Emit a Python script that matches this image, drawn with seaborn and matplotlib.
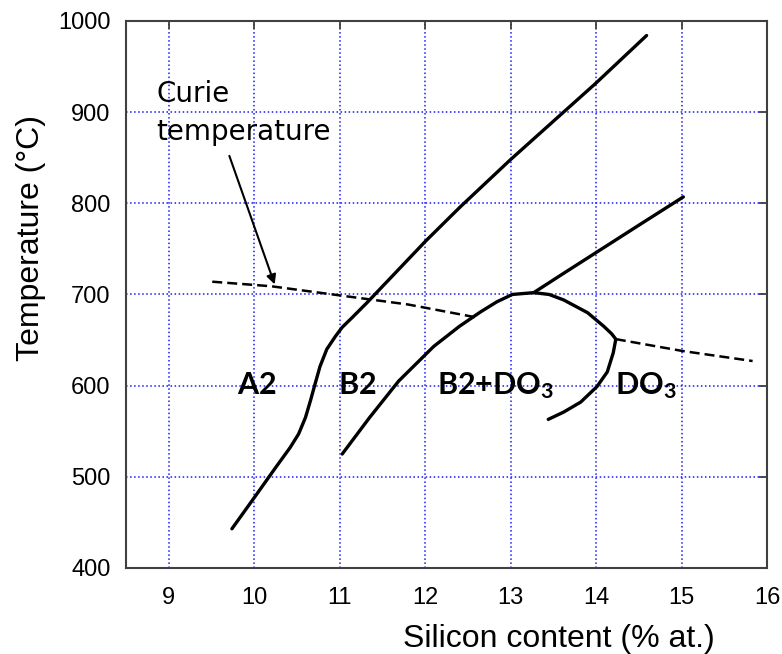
"""
Fe-Si phase diagram (order-disorder transitions) recreated with seaborn
"""
import matplotlib
matplotlib.use('Agg')
import matplotlib.pyplot as plt
import seaborn as sns

sns.set_style("white")
plt.rcParams['font.family'] = ['Liberation Sans', 'DejaVu Sans']
plt.rcParams['mathtext.fontset'] = 'custom'
plt.rcParams['mathtext.bf'] = 'Lato:bold'
plt.rcParams['mathtext.rm'] = 'Lato:bold'
plt.rcParams['text.color'] = 'black'
plt.rcParams['axes.labelcolor'] = 'black'
plt.rcParams['xtick.labelcolor'] = 'black'
plt.rcParams['ytick.labelcolor'] = 'black'

# A2 / B2 boundary (and its extension upward)
a2_b2_si = [9.74, 10.0, 10.25, 10.42, 10.52, 10.6, 10.66, 10.71, 10.77, 10.85, 10.95, 11.03,
            11.15, 11.32, 12.0, 12.41, 13.0, 14.0, 14.59]
a2_b2_t = [443, 477, 510, 532, 547, 565, 584, 601, 621, 640, 654, 664,
           675, 691, 758, 796, 848, 932, 984]

# B2 / B2+DO3 boundary continuing to 15 % Si
b2_do3_si = [11.03, 11.35, 11.69, 12.1, 12.4, 12.65, 12.84, 13.02, 13.27, 13.6, 14.0, 14.5, 15.02]
b2_do3_t = [525, 565, 605, 643, 665, 681, 692, 700, 702, 722, 746, 776, 807]

# DO3 dome
dome_si = [13.27, 13.45, 13.62, 13.9, 14.09, 14.18, 14.23, 14.2, 14.13, 14.01, 13.82, 13.62, 13.44]
dome_t = [702, 700, 694, 680, 665, 657, 651, 636, 615, 599, 582, 571, 563]

# Curie temperature (dashed, two visible pieces)
curie_left_si = [9.51, 10.2, 10.92, 11.8, 12.59]
curie_left_t = [714, 709, 700, 689, 675]
curie_right_si = [14.23, 15.01, 15.83]
curie_right_t = [651, 638, 627]

x_ticks = [9, 10, 11, 12, 13, 14, 15, 16]
y_ticks = [400, 500, 600, 700, 800, 900, 1000]

fig = plt.figure(figsize=(7.82, 6.54), dpi=100)
ax = fig.add_axes([0.161, 0.1315, 0.82, 0.8365])

for xs, ys in [(a2_b2_si, a2_b2_t), (b2_do3_si, b2_do3_t), (dome_si, dome_t)]:
    sns.lineplot(x=xs, y=ys, sort=False, estimator=None, color='black', lw=2.4, ax=ax)
for xs, ys in [(curie_left_si, curie_left_t), (curie_right_si, curie_right_t)]:
    sns.lineplot(x=xs, y=ys, sort=False, estimator=None, color='black', lw=1.8,
                 linestyle=(0, (4, 2)), ax=ax)

ax.set_xlim(8.5, 16)
ax.set_ylim(400, 1000)
ax.set_xticks(x_ticks)
ax.set_yticks(y_ticks)
ax.grid(True, color='#1a1aff', linestyle=':', linewidth=1.1)
ax.tick_params(direction='in', length=6, width=1.3, color='#404040',
               top=True, right=True, labelsize=17)
ax.tick_params(axis='x', pad=14)
ax.tick_params(axis='y', pad=11)
for s in ax.spines.values():
    s.set_color('#404040')
    s.set_linewidth(1.5)

ax.set_xlabel('Silicon content (% at.)', fontsize=23)
ax.set_ylabel('Temperature (°C)', fontsize=23)
ax.xaxis.set_label_coords(0.675, -0.102)
ax.yaxis.set_label_coords(-0.124, 0.603)

# region labels
ax.text(9.8, 600, r'$\mathbf{A2}$', fontsize=22, va='center', ha='left')
ax.text(10.98, 600, r'$\mathbf{B2}$', fontsize=22, va='center', ha='left')
ax.text(12.14, 600, r'$\mathbf{B2{+}DO_3}$', fontsize=22, va='center', ha='left')
ax.text(14.22, 600, r'$\mathbf{DO_3}$', fontsize=22, va='center', ha='left')

# Curie temperature annotation
ax.text(8.86, 935, 'Curie\ntemperature', fontsize=20, family='DejaVu Sans',
        va='top', ha='left', linespacing=1.45)
ax.annotate('', xy=(10.24, 711), xytext=(9.71, 852),
            arrowprops=dict(arrowstyle='-|>', color='black', lw=1.5,
                            mutation_scale=14, shrinkA=0, shrinkB=0))

plt.savefig('out.png', dpi=100)
plt.close()
